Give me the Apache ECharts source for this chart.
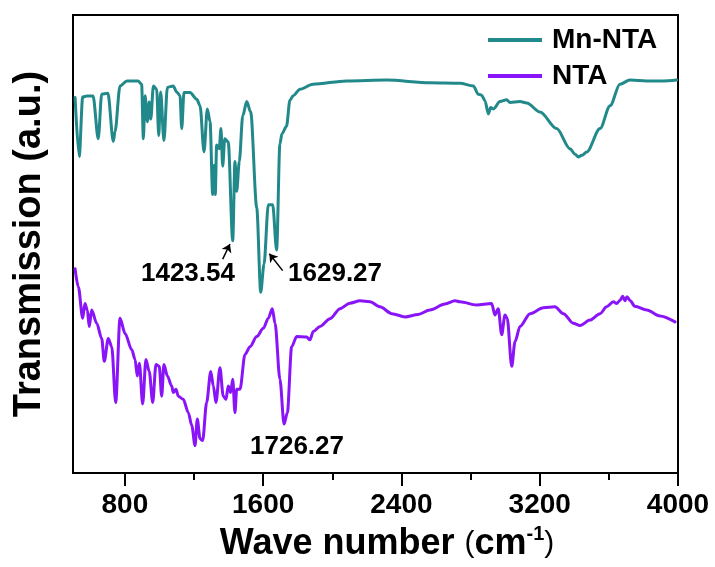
<!DOCTYPE html>
<html>
<head>
<meta charset="utf-8">
<script src="https://cdn.jsdelivr.net/npm/echarts@6/dist/echarts.min.js"></script>
<style>html,body{margin:0;padding:0;background:#fff}#c{width:715px;height:567px}</style>
</head>
<body>
<div id="c"></div>
<script>
// Wavenumbers (cm-1) and transmission (a.u., arbitrary offset scale)
const mnNtaWave = [512,536,556,581,616,646,666,702,733,743,772,812,876,897,907,917,930,941,950,965,984,996,1007,1026,1046,1080,1100,1119,1129,1142,1177,1216,1235,1258,1277,1293,1308,1316,1323,1331,1346,1356,1366,1378,1398,1424,1437,1447,1462,1482,1505,1528,1563,1586,1605,1630,1655,1678,1697,1709,1735,1755,1774,1813,1888,2083,2315,2565,2739,2816,2845,2864,2883,2903,2916,2932,2970,3009,3028,3086,3125,3202,3298,3375,3405,3423,3445,3472,3549,3607,3664,3722,3819,3915,3992];
const mnNtaT = [82.0,69.1,82.1,82.3,82.3,73.0,82.7,82.9,72.4,74.5,84.5,85.6,85.6,84.9,73.0,82.4,76.7,81.0,77.3,84.5,83.8,73.7,83.2,72.6,84.2,84.5,83.2,82.4,75.2,83.1,83.1,81.6,80.2,70.1,79.5,76.7,60.8,67.2,60.8,71.6,70.8,75.2,67.0,73.0,72.3,50.7,68.0,61.5,68.0,78.0,81.1,78.8,57.9,39.5,45.6,58.6,58.6,48.7,71.9,74.1,75.7,81.4,82.4,83.8,84.9,85.6,85.8,85.2,85.1,84.5,82.7,82.5,81.3,78.4,79.8,79.5,81.1,81.5,80.9,81.1,80.8,78.8,75.2,70.8,69.6,69.0,69.4,70.1,75.2,80.2,84.9,85.8,85.6,85.6,85.8];

const ntaWave = [512,531,556,569,583,594,608,637,666,681,704,724,747,772,801,840,859,872,884,903,922,941,961,980,999,1013,1026,1046,1071,1080,1096,1109,1138,1167,1187,1206,1219,1235,1250,1273,1297,1312,1327,1350,1369,1385,1398,1412,1424,1437,1447,1466,1495,1524,1563,1601,1630,1653,1669,1697,1721,1740,1765,1794,1852,1871,1890,1929,1987,2045,2102,2160,2218,2276,2345,2421,2496,2565,2652,2710,2739,2835,2922,2941,2960,2980,2999,3012,3038,3057,3086,3144,3221,3288,3337,3394,3433,3491,3549,3587,3626,3645,3664,3680,3693,3705,3722,3751,3819,3896,3983];
const ntaT = [44.6,40.6,33.8,37.0,35.6,32.0,35.6,32.7,29.4,24.4,29.4,27.6,15.4,33.8,30.5,26.9,24.8,21.2,24.0,15.1,24.8,22.2,15.4,23.7,23.3,16.8,23.7,21.2,19.0,17.6,18.3,16.8,16.1,13.2,10.4,6.0,11.8,7.5,7.1,15.4,22.2,19.0,15.4,23.0,16.8,16.1,19.0,17.6,20.5,13.2,18.3,18.3,25.9,27.6,29.8,31.6,33.8,35.9,32.7,20.5,10.7,13.2,27.6,29.8,29.7,29.1,30.9,32.0,33.7,35.9,37.1,37.6,37.4,36.3,34.8,34.1,34.6,35.6,36.9,37.6,37.4,36.7,37.0,34.5,35.9,30.2,34.5,33.8,23.3,28.7,32.0,34.8,36.1,36.3,34.8,32.7,32.2,33.4,34.8,36.3,37.4,37.0,37.7,38.6,37.6,38.5,37.7,36.4,35.6,34.3,33.0];

const majorTicks = [800,1600,2400,3200,4000];
const minorTicks = [1200,2000,2800,3600];
const seriesNames = ['Mn-NTA','NTA'];
const peakLabels = ['1423.54','1629.27','1726.27'];

const FONT = 'Liberation Sans, Arial, sans-serif';
const teal = '#22898a';
const purple = '#8a14f8';

const chart = echarts.init(document.getElementById('c'), null, {renderer:'canvas'});
const zip = (a,b) => a.map((v,i)=>[v,b[i]]);

chart.setOption({
  animation: false,
  grid: {left:73, right:37, top:15, bottom:89, show:true, borderColor:'#000', borderWidth:2, backgroundColor:'transparent'},
  legend: {
    orient:'vertical', left:483, top:21, itemWidth:54, itemHeight:4, itemGap:8,
    data: [{name:seriesNames[0], icon:'rect'},{name:seriesNames[1], icon:'rect'}],
    textStyle:{fontFamily:FONT, fontSize:28, fontWeight:'bold', color:'#000', padding:[0,0,0,5]}
  },
  xAxis: [{
    type:'value', min:500, max:4000,
    axisLine:{show:true, onZero:false, lineStyle:{color:'#000', width:2}},
    axisTick:{show:true, customValues:majorTicks, length:13, lineStyle:{color:'#000', width:2}},
    axisLabel:{show:true, customValues:majorTicks, margin:18, formatter:(v)=>String(v), fontFamily:FONT, fontSize:28, fontWeight:'bold', color:'#000'},
    splitLine:{show:false},
    name:'{b|Wave number }{p|(}{b|cm}{s|-1}{p|)}',
    nameLocation:'middle', nameGap:50,
    nameTextStyle:{padding:[0,0,0,23], rich:{
      b:{fontFamily:FONT, fontSize:36, fontWeight:'bold', color:'#000'},
      p:{fontFamily:FONT, fontSize:30, fontWeight:'normal', color:'#000'},
      s:{fontFamily:FONT, fontSize:20, fontWeight:'bold', color:'#000', padding:[0,0,20,0]}
    }}
  },{
    type:'value', min:500, max:4000, position:'bottom',
    axisLine:{show:false},
    axisTick:{show:true, customValues:minorTicks, length:7, lineStyle:{color:'#000', width:2}},
    axisLabel:{show:false}, splitLine:{show:false}
  }],
  yAxis: {
    type:'value', min:0, max:100,
    axisLine:{show:true, lineStyle:{color:'#000', width:2}},
    axisTick:{show:false}, axisLabel:{show:false}, splitLine:{show:false},
    name:'Transmission (a.u.)', nameLocation:'middle', nameGap:24,
    nameTextStyle:{fontFamily:FONT, fontSize:38, fontWeight:'bold', color:'#000'}
  },
  series: [{
    name:seriesNames[0], type:'line', showSymbol:false, symbol:'none',
    smooth:0.3, smoothMonotone:'x',
    data: zip(mnNtaWave, mnNtaT),
    lineStyle:{color:teal, width:3, cap:'round', join:'round'}, itemStyle:{color:teal},
    markPoint:{
      symbol:'circle', symbolSize:0, silent:true,
      itemStyle:{color:'rgba(0,0,0,0)'},
      label:{show:true, position:'inside', color:'#000', fontFamily:FONT, fontSize:26, fontWeight:'bold'},
      data:[
        {coord:[1165,43.6], label:{formatter:peakLabels[0]}},
        {coord:[2016,43.6], label:{formatter:peakLabels[1]}}
      ]
    },
    markLine:{
      silent:true, symbol:['none','arrow'], symbolSize:8,
      lineStyle:{color:'#000', width:1.5, type:'solid'}, label:{show:false},
      data:[
        [{coord:[1366,46.7]},{coord:[1408,50.0]}],
        [{coord:[1713,44.2]},{coord:[1636,47.9]}]
      ]
    }
  },{
    name:seriesNames[1], type:'line', showSymbol:false, symbol:'none',
    smooth:0.3, smoothMonotone:'x',
    data: zip(ntaWave, ntaT),
    lineStyle:{color:purple, width:3, cap:'round', join:'round'}, itemStyle:{color:purple},
    markPoint:{
      symbol:'circle', symbolSize:0, silent:true,
      itemStyle:{color:'rgba(0,0,0,0)'},
      label:{show:true, position:'inside', color:'#000', fontFamily:FONT, fontSize:26, fontWeight:'bold'},
      data:[{coord:[1796,5.7], label:{formatter:peakLabels[2]}}]
    }
  }]
});
</script>
</body>
</html>
